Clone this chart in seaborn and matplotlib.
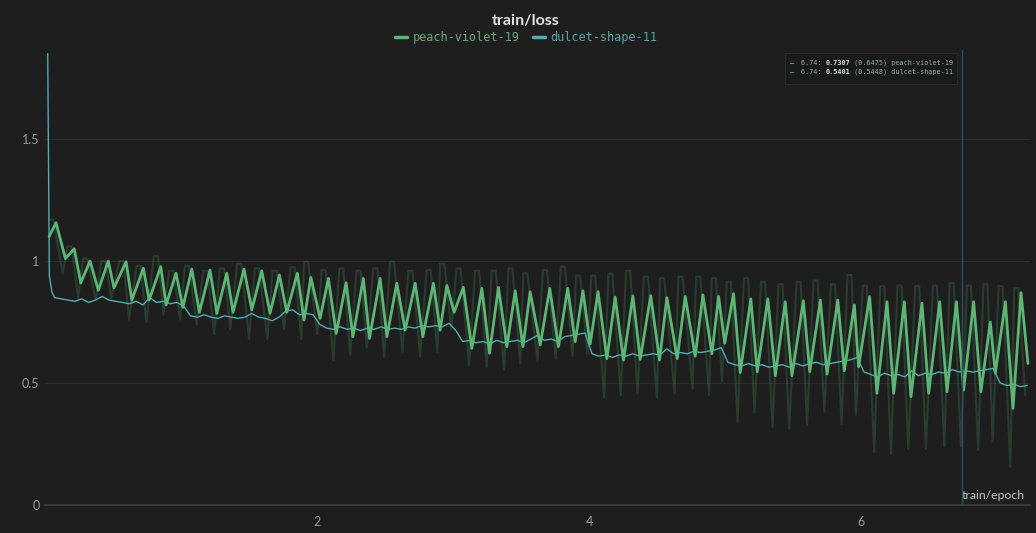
import numpy as np
import pandas as pd
import matplotlib
matplotlib.use('Agg')
import matplotlib.pyplot as plt
from matplotlib.lines import Line2D
from matplotlib.patches import Rectangle
import seaborn as sns

sns.set_theme(style='dark')
plt.rcParams['font.family'] = ['Lato', 'DejaVu Sans']

BG = '#1e1e1e'
GREEN = '#5db676'
CYAN = '#4fadb3'

# peach-violet-19: smoothed curve, one peak + one trough per cycle
peak_ep = [0.081, 0.215, 0.331, 0.465, 0.596, 0.723, 0.851, 0.963, 1.079, 1.213,
           1.336, 1.463, 1.593, 1.723, 1.855, 1.954, 2.083, 2.213, 2.340, 2.463,
           2.586, 2.721, 2.855, 2.954, 3.075, 3.211, 3.333, 3.456, 3.566, 3.710,
           3.842, 3.954, 4.065, 4.191, 4.321, 4.452, 4.571, 4.706, 4.836, 4.951,
           5.061, 5.188, 5.313, 5.441, 5.574, 5.699, 5.827, 5.949, 6.061, 6.189,
           6.316, 6.446, 6.576, 6.699, 6.826, 6.948, 7.059, 7.174]
peak_loss = [1.157, 1.050, 1.000, 1.000, 0.997, 0.970, 0.977, 0.950, 0.967, 0.963,
             0.950, 0.967, 0.960, 0.943, 0.950, 0.933, 0.929, 0.911, 0.929, 0.929,
             0.909, 0.909, 0.909, 0.900, 0.892, 0.888, 0.892, 0.878, 0.874, 0.888,
             0.888, 0.878, 0.874, 0.852, 0.857, 0.858, 0.850, 0.855, 0.861, 0.855,
             0.866, 0.845, 0.845, 0.833, 0.837, 0.840, 0.840, 0.820, 0.854, 0.833,
             0.833, 0.827, 0.833, 0.833, 0.833, 0.750, 0.833, 0.870]
trough_ep = [0.150, 0.263, 0.392, 0.507, 0.638, 0.765, 0.890, 1.013, 1.135, 1.263,
             1.382, 1.520, 1.654, 1.777, 1.904, 2.022, 2.140, 2.263, 2.385, 2.513,
             2.647, 2.777, 2.904, 3.007, 3.137, 3.267, 3.395, 3.513, 3.640, 3.774,
             3.897, 4.007, 4.130, 4.252, 4.375, 4.517, 4.647, 4.779, 4.902, 4.996,
             5.110, 5.235, 5.368, 5.490, 5.621, 5.748, 5.875, 5.980, 6.115, 6.238,
             6.365, 6.495, 6.630, 6.752, 6.879, 6.985, 7.115, 7.225]
trough_loss = [1.010, 0.910, 0.880, 0.890, 0.840, 0.840, 0.820, 0.810, 0.790, 0.785,
               0.790, 0.800, 0.786, 0.790, 0.758, 0.765, 0.703, 0.690, 0.683, 0.690,
               0.717, 0.690, 0.717, 0.790, 0.642, 0.622, 0.649, 0.649, 0.656, 0.649,
               0.669, 0.660, 0.600, 0.594, 0.597, 0.594, 0.600, 0.610, 0.620, 0.663,
               0.543, 0.546, 0.530, 0.530, 0.546, 0.537, 0.550, 0.567, 0.458, 0.458,
               0.444, 0.458, 0.464, 0.471, 0.464, 0.540, 0.396, 0.580]
smooth_start = (0.03, 1.10)

# peach-violet-19: raw (unsmoothed) values per cycle
raw_peak_loss = [1.17, 1.06, 1.01, 1.00, 1.00, 0.98, 1.02, 0.96, 0.98, 0.96,
                 0.97, 0.99, 0.97, 0.96, 0.975, 0.997, 0.963, 0.97, 0.96, 0.97,
                 0.997, 0.96, 0.963, 0.99, 0.97, 0.96, 0.96, 0.97, 0.95, 0.963,
                 0.977, 0.94, 0.94, 0.948, 0.96, 0.936, 0.93, 0.936, 0.936, 0.93,
                 0.915, 0.93, 0.915, 0.905, 0.915, 0.92, 0.905, 0.943, 0.90, 0.897,
                 0.90, 0.897, 0.90, 0.91, 0.90, 0.905, 0.897, 0.89]
raw_trough_loss = [0.95, 0.85, 0.84, 0.85, 0.76, 0.75, 0.78, 0.76, 0.74, 0.70,
                   0.72, 0.68, 0.68, 0.72, 0.68, 0.70, 0.594, 0.615, 0.645, 0.608,
                   0.628, 0.608, 0.628, 0.72, 0.574, 0.567, 0.553, 0.58, 0.59, 0.60,
                   0.61, 0.62, 0.44, 0.45, 0.457, 0.44, 0.457, 0.478, 0.45, 0.505,
                   0.341, 0.382, 0.32, 0.313, 0.327, 0.382, 0.33, 0.37, 0.218, 0.21,
                   0.23, 0.23, 0.24, 0.24, 0.225, 0.26, 0.157, 0.45]
raw_lead = 0.02   # raw leads the smoothed curve by about one log step
raw_hold = 0.03   # raw stays at its top for about one log step

# dulcet-shape-11: first steps, then one value every 0.05 epoch from 0.07
dulcet_head_ep = [0.02, 0.032, 0.05]
dulcet_head_loss = [1.85, 0.94, 0.875]
dulcet_ep0 = [0.85, 0.845, 0.84, 0.835, 0.845, 0.83, 0.84, 0.855, 0.84, 0.835,
              0.83, 0.825, 0.835, 0.82, 0.85, 0.83, 0.835, 0.825, 0.83, 0.815]
dulcet_ep1 = [0.775, 0.77, 0.78, 0.77, 0.765, 0.775, 0.77, 0.765, 0.77, 0.785,
              0.77, 0.765, 0.755, 0.77, 0.795, 0.80, 0.78, 0.785, 0.78, 0.74]
dulcet_ep2 = [0.725, 0.72, 0.73, 0.72, 0.725, 0.715, 0.725, 0.72, 0.73, 0.72,
              0.725, 0.72, 0.73, 0.725, 0.735, 0.73, 0.735, 0.73, 0.745, 0.715]
dulcet_ep3 = [0.67, 0.675, 0.665, 0.67, 0.66, 0.675, 0.665, 0.67, 0.675, 0.665,
              0.68, 0.695, 0.675, 0.68, 0.67, 0.69, 0.695, 0.70, 0.705, 0.62]
dulcet_ep4 = [0.61, 0.615, 0.605, 0.615, 0.61, 0.62, 0.61, 0.615, 0.62, 0.615,
              0.64, 0.62, 0.625, 0.62, 0.63, 0.625, 0.63, 0.635, 0.645, 0.585]
dulcet_ep5 = [0.575, 0.57, 0.58, 0.57, 0.575, 0.565, 0.57, 0.575, 0.565, 0.58,
              0.57, 0.58, 0.585, 0.575, 0.58, 0.585, 0.59, 0.595, 0.605, 0.545]
dulcet_ep6 = [0.535, 0.525, 0.54, 0.53, 0.535, 0.525, 0.55, 0.53, 0.54, 0.535,
              0.545, 0.54, 0.555, 0.545, 0.55, 0.545, 0.55, 0.555, 0.56, 0.50]
dulcet_ep7 = [0.49, 0.495, 0.485, 0.49]

hover_epoch = 6.74
hover_rows = [('peach-violet-19', 0.7307, 0.6475), ('dulcet-shape-11', 0.5401, 0.5448)]

# build the frames
s_ep, s_loss = [smooth_start[0]], [smooth_start[1]]
for p, pl, t, tl in zip(peak_ep, peak_loss, trough_ep, trough_loss):
    s_ep += [p, t]
    s_loss += [pl, tl]
peach = pd.DataFrame({'epoch': s_ep, 'loss': s_loss})

r_ep, r_loss = [], []
for p, t, hi, lo in zip(peak_ep, trough_ep, raw_peak_loss, raw_trough_loss):
    r_ep += [p - raw_lead - raw_hold, p - raw_lead, t - raw_lead]
    r_loss += [hi, hi, lo]
peach_raw = pd.DataFrame({'epoch': r_ep, 'loss': r_loss})

d_body = dulcet_ep0 + dulcet_ep1 + dulcet_ep2 + dulcet_ep3 + dulcet_ep4 + dulcet_ep5 + dulcet_ep6 + dulcet_ep7
d_ep = dulcet_head_ep + list(np.round(0.07 + 0.05 * np.arange(len(d_body)), 3))
dulcet = pd.DataFrame({'epoch': d_ep, 'loss': dulcet_head_loss + d_body})

fig = plt.figure(figsize=(10.36, 5.33), dpi=100, facecolor=BG)
ax = fig.add_axes([45 / 1036, 28 / 533, 985 / 1036, 455 / 533])
ax.set_facecolor(BG)

sns.lineplot(data=peach_raw, x='epoch', y='loss', ax=ax, color=GREEN, alpha=0.2,
             lw=1.5, estimator=None, sort=False, zorder=2)
sns.lineplot(data=dulcet, x='epoch', y='loss', ax=ax, color=CYAN, lw=1.0,
             estimator=None, sort=False, zorder=3)
sns.lineplot(data=peach, x='epoch', y='loss', ax=ax, color=GREEN, lw=2.0,
             estimator=None, sort=False, zorder=4)
ax.axvline(hover_epoch, color='#2a4f62', lw=1.0, zorder=5)

ax.set_xlim(0, 7.24)
ax.set_ylim(0, 1.865)
ax.set_xticks([2, 4, 6])
ax.set_xticklabels(['2', '4', '6'])
ax.set_yticks([0, 0.5, 1, 1.5])
ax.set_yticklabels(['0', '0.5', '1', '1.5'])
ax.set_xlabel('')
ax.set_ylabel('')
ax.grid(axis='y', color='#2c2c2c', lw=0.8)
ax.grid(axis='x', visible=False)
for side in ['top', 'right', 'left']:
    ax.spines[side].set_visible(False)
ax.spines['bottom'].set_color('#3c3c3c')
ax.tick_params(axis='x', colors='#9a9a9a', labelsize=9, length=3, pad=5, color='#3c3c3c')
ax.tick_params(axis='y', colors='#9a9a9a', labelsize=9, length=0, pad=4)

ax.annotate('train/epoch', xy=(1, 0), xycoords='axes fraction', xytext=(-4, 3),
            textcoords='offset points', ha='right', va='bottom', fontsize=8.8, color='#c4c4c4')

fig.text(526 / 1036, 1 - 21 / 533, 'train/loss', ha='center', va='center',
         fontsize=11.5, fontweight='bold', color='#e2e2e2')
handles = [Line2D([], [], color=GREEN, lw=2.5), Line2D([], [], color=CYAN, lw=2.5)]
fig.legend(handles, ['peach-violet-19', 'dulcet-shape-11'], loc='center',
           bbox_to_anchor=(526 / 1036, 1 - 38 / 533), ncol=2, frameon=False,
           prop={'family': 'DejaVu Sans Mono', 'size': 8.6},
           labelcolor=['#6aa97c', '#58a6a8'], handlelength=1.0,
           handletextpad=0.5, columnspacing=1.1)

# hover tooltip: "epoch: value (smoothed) run", value in bold
fig.patches.append(Rectangle((785 / 1036, 1 - 84 / 533), 172 / 1036, 31 / 533,
                             transform=fig.transFigure, facecolor='#1a1a1a',
                             edgecolor='#2a2a2a', lw=0.8, zorder=6))
tip_size = 4.9
char_w = 0.602 * tip_size * 100 / 72   # px per monospace char
for i, (name, val, smooth) in enumerate(hover_rows):
    y = 1 - (63 + 9 * i) / 533
    color = GREEN if i == 0 else CYAN
    fig.text(790 / 1036, y, '—', color=color, fontsize=5, va='center',
             family='DejaVu Sans Mono', fontweight='bold', zorder=7)
    parts = [(f'{hover_epoch}: ', 'normal', '#8fb2ae'),
             (f'{val:.4f}', 'bold', '#d8e4e2'),
             (f' ({smooth:.4f}) {name}', 'normal', '#8fb2ae')]
    x0 = 801
    for txt, weight, col in parts:
        fig.text(x0 / 1036, y, txt, color=col, fontsize=tip_size, va='center',
                 family='DejaVu Sans Mono', fontweight=weight, zorder=7)
        x0 += len(txt) * char_w

fig.savefig('out.png', dpi=100, facecolor=BG)
